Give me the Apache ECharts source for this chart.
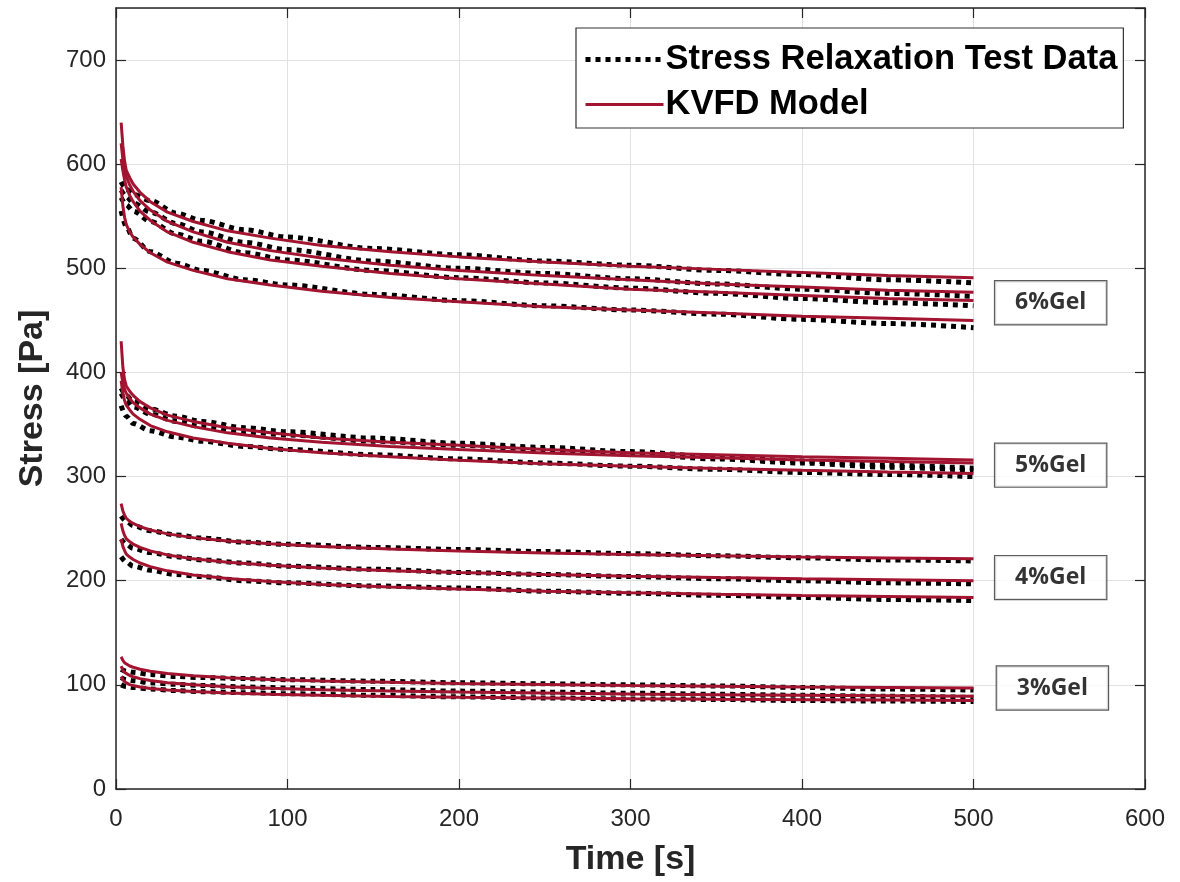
<!DOCTYPE html>
<html>
<head>
<meta charset="utf-8">
<title>Stress relaxation - KVFD</title>
<script src="https://cdn.jsdelivr.net/npm/echarts@6/dist/echarts.min.js"></script>
<style>
  html, body { margin: 0; padding: 0; background: #fff; }
  #chart { width: 1180px; height: 882px; }
</style>
</head>
<body>
<div id="chart"></div>
<script>
// time axis [s]
const modelTime = [3, 4, 5, 6, 8, 10, 14, 20, 30, 45, 65, 90, 120, 160, 200, 250, 300, 350, 400, 450, 500];
const testTime = [3, 6, 10, 20, 35, 50, 75, 100, 150, 200, 250, 300, 350, 400, 450, 500];

// KVFD model curves [Pa]
const model6 = [
  [640, 618, 603, 594, 587, 581, 573, 564, 554, 545, 536, 529, 522, 516, 511, 506, 502, 499, 496, 493, 491],
  [620, 605, 595, 588, 580, 574, 565, 556, 545, 535, 525, 517, 510, 503, 498, 493, 489, 485, 482, 479, 477],
  [605, 594, 585, 578, 570, 564, 555, 546, 535, 525, 516, 508, 502, 495, 490, 485, 480, 477, 474, 471, 469],
  [578, 560, 549, 542, 535, 530, 523, 515, 506, 498, 490, 484, 478, 472, 468, 463, 460, 457, 454, 452, 450]
];
const model5 = [
  [430, 405, 393, 387, 382, 378, 372, 366, 359, 353, 347, 342, 337, 333, 330, 326, 323, 321, 319, 317.6, 316],
  [400, 390, 384, 380, 375, 371, 366, 360, 354, 348, 342, 337, 333, 329, 326, 322.6, 320, 318, 316, 314.4, 313],
  [392, 380, 373, 368.6, 364, 360, 355, 349, 343, 337, 332, 327, 323, 319, 315.6, 312.4, 310, 307.8, 306, 304.4, 303]
];
const model4 = [
  [274, 267, 263, 260, 257, 255, 252, 248.7, 245, 241.4, 238.2, 235.4, 232.9, 230.5, 228.6, 226.7, 225.2, 223.9, 222.8, 221.9, 221],
  [255, 248, 243.5, 240.3, 237.5, 235.2, 232, 228.6, 224.8, 221, 217.7, 214.8, 212.2, 209.7, 207.8, 205.9, 204.3, 203, 201.9, 200.9, 200],
  [240, 233, 229, 225.6, 222.7, 220.4, 217, 213.5, 209.5, 205.6, 202.2, 199.2, 196.5, 194, 192, 190, 188.4, 187.1, 185.9, 184.9, 184]
];
const model3 = [
  [127, 123.5, 121.3, 119.7, 118.1, 116.9, 115, 113.1, 110.9, 108.8, 106.9, 105.2, 103.8, 102.4, 101.3, 100.3, 99.4, 98.7, 98, 97.5, 97],
  [118, 114, 112, 110.5, 108.9, 107.8, 106, 104.2, 102.1, 100.1, 98.3, 96.8, 95.4, 94.1, 93.1, 92.1, 91.2, 90.6, 90, 89.5, 89],
  [108, 105, 103, 101.4, 100.2, 99.3, 98, 96.6, 95.1, 93.6, 92.2, 91, 90, 88.9, 88.2, 87.4, 86.7, 86.2, 85.8, 85.4, 85]
];

// stress relaxation test data [Pa]
const test6 = [
  [583, 576, 571, 565, 553, 546, 537, 530, 519, 513, 507, 503, 498, 494, 489, 486],
  [575, 569, 563, 554, 543, 535, 525, 518, 507, 500, 495, 490, 485, 480, 476, 473],
  [568, 561, 555, 545, 533, 526, 515, 508, 498, 491, 486, 481, 476, 471, 467, 464],
  [555, 540, 529, 516, 505, 498, 489, 484, 475, 469, 464, 460, 456, 451, 447, 443]
];
const test5 = [
  [385, 378, 372, 365, 358, 353, 347, 343, 337, 332, 328, 324, 319, 315, 311, 308],
  [380, 373, 367, 360, 353, 348, 343, 340, 334, 330, 326, 322, 317, 313, 309, 306],
  [368, 358, 351, 344, 338, 334, 329, 326, 321, 317, 313, 310, 307, 304, 302, 300]
];
const test4 = [
  [262, 257, 253, 248, 244, 241, 237, 235, 232, 230, 228, 226, 224, 222, 220, 219],
  [240, 235, 231, 227, 223, 220, 217, 214, 211, 208, 206, 204, 202, 200, 198, 197],
  [223, 218, 214, 210, 206, 204, 200, 198, 195, 193, 190, 188, 186, 184, 182, 181]
];
const test3 = [
  [115, 113, 112, 110, 108, 107, 106, 105, 103.5, 102, 101, 100, 99, 97.5, 96, 95],
  [107, 105, 104, 102, 100.5, 99.5, 98, 97, 95.5, 94, 93, 92, 91, 90, 89, 88],
  [100, 98.5, 97.5, 96, 94.5, 93.5, 92.5, 91.5, 90, 88.5, 87.5, 86.5, 86, 85, 84.5, 84]
];

// gel concentration labels
const gelNames = ['6%Gel', '5%Gel', '4%Gel', '3%Gel'];
const gelX = [545, 545, 545, 546];
const gelY = [467, 311, 203, 97];

const TEST_NAME = 'Stress Relaxation Test Data';
const MODEL_NAME = 'KVFD Model';
const red = '#A2142F';
const axisColor = '#262626';
const testLine = { color: '#000', width: 5, type: [5, 5], cap: 'butt' };
const modelLine = { color: red, width: 3 };

let series = [];

//测试数据 (dotted)
[test6, test5, test4, test3].forEach(group => {
  group.forEach(vals => {
    series.push({
      name: TEST_NAME,
      type: 'line',
      data: testTime.map((t, i) => [t, vals[i]]),
      symbol: 'none',
      smooth: 0.3,
      smoothMonotone: 'x',
      lineStyle: testLine,
      itemStyle: { color: '#000' },
      z: 2
    });
  });
});

//模型曲线
[model6, model5, model4, model3].forEach(group => {
  group.forEach(vals => {
    series.push({
      name: MODEL_NAME,
      type: 'line',
      data: modelTime.map((t, i) => [t, vals[i]]),
      symbol: 'none',
      smooth: false,
      lineStyle: modelLine,
      itemStyle: { color: red },
      z: 3
    });
  });
});

//标签框
series.push({
  name: 'gel',
  type: 'scatter',
  symbolSize: 1,
  itemStyle: { color: 'rgba(0,0,0,0)' },
  data: gelNames.map((n, i) => [gelX[i], gelY[i], n]),
  label: {
    show: true,
    position: 'inside',
    formatter: p => p.value[2],
    fontFamily: 'Open Sans',
    fontWeight: 'bold',
    fontSize: 23,
    color: '#000',
    backgroundColor: '#fff',
    borderColor: '#333',
    borderWidth: 1.2,
    padding: [10, 20, 10, 20]
  },
  z: 5,
  silent: true
});

let option = {
  backgroundColor: '#fff',
  animation: false,
  textStyle: { fontFamily: 'Liberation Sans, Arial, sans-serif' },
  grid: { left: 116, right: 35, top: 8, bottom: 92 },
  legend: {
    data: [
      { name: TEST_NAME, lineStyle: testLine },
      { name: MODEL_NAME, lineStyle: modelLine }
    ],
    orient: 'vertical',
    left: 576,
    top: 28,
    padding: [14, 6, 6, 7],
    itemWidth: 78,
    itemHeight: 14,
    itemGap: 10,
    itemStyle: { opacity: 0 },
    backgroundColor: '#fff',
    borderColor: '#333',
    borderWidth: 1.2,
    borderRadius: 0,
    selectedMode: false,
    textStyle: {
      fontSize: 34.5,
      fontWeight: 'bold',
      color: '#000',
      fontFamily: 'Liberation Sans, Arial, sans-serif',
      padding: [0, 0, 0, -3]
    }
  },
  xAxis: [
    {
      type: 'value',
      min: 0,
      max: 600,
      interval: 100,
      name: 'Time [s]',
      nameLocation: 'middle',
      nameGap: 54,
      nameTextStyle: { fontSize: 34, fontWeight: 'bold', color: axisColor },
      axisLine: { show: true, onZero: false, lineStyle: { color: axisColor, width: 1.5 } },
      axisTick: { show: true, inside: true, length: 10, lineStyle: { color: axisColor, width: 1.2 } },
      axisLabel: { fontSize: 24, color: axisColor, margin: 18 },
      splitLine: { show: true, lineStyle: { color: '#e2e2e2', width: 1 } }
    },
    {
      type: 'value',
      position: 'top',
      min: 0,
      max: 600,
      interval: 100,
      axisLine: { show: true, onZero: false, lineStyle: { color: axisColor, width: 1.5 } },
      axisTick: { show: true, inside: true, length: 10, lineStyle: { color: axisColor, width: 1.2 } },
      axisLabel: { show: false },
      splitLine: { show: false }
    }
  ],
  yAxis: [
    {
      type: 'value',
      min: 0,
      max: 750,
      interval: 100,
      name: 'Stress [Pa]',
      nameLocation: 'middle',
      nameGap: 66,
      nameTextStyle: { fontSize: 34, fontWeight: 'bold', color: axisColor },
      axisLine: { show: true, onZero: false, lineStyle: { color: axisColor, width: 1.5 } },
      axisTick: { show: true, inside: true, length: 10, lineStyle: { color: axisColor, width: 1.2 } },
      axisLabel: { fontSize: 24, color: axisColor, margin: 10, showMaxLabel: false },
      splitLine: { show: true, lineStyle: { color: '#e2e2e2', width: 1 } }
    },
    {
      type: 'value',
      position: 'right',
      min: 0,
      max: 750,
      interval: 100,
      axisLine: { show: true, onZero: false, lineStyle: { color: axisColor, width: 1.5 } },
      axisTick: { show: true, inside: true, length: 10, lineStyle: { color: axisColor, width: 1.2 } },
      axisLabel: { show: false },
      splitLine: { show: false }
    }
  ],
  series: series
};

let chart = echarts.init(document.getElementById('chart'));
chart.setOption(option);
</script>
</body>
</html>
